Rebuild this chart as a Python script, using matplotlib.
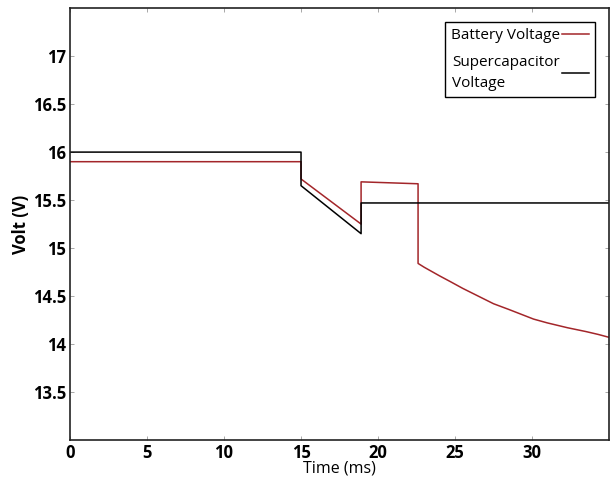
import numpy as np
import matplotlib.pyplot as plt

# battery voltage (red)
bat_t = [0, 15, 15, 18.9, 18.9, 22.6, 22.6, 23.0, 24.0, 24.7, 25.5, 26.5, 27.5,
         28.5, 29.3, 30.1, 31.0, 32.3, 33.5, 34.3, 35]
bat_v = [15.9, 15.9, 15.72, 15.25, 15.69, 15.67, 14.84, 14.80, 14.71, 14.65, 14.58, 14.50, 14.42,
         14.36, 14.31, 14.26, 14.22, 14.17, 14.13, 14.10, 14.07]

# supercapacitor voltage (black)
sc_t = [0, 15, 15, 18.9, 18.9, 35]
sc_v = [16.0, 16.0, 15.65, 15.15, 15.47, 15.47]

xticks = [0, 5, 10, 15, 20, 25, 30]
yticks = [13.5, 14, 14.5, 15, 15.5, 16, 16.5, 17]

plt.rcParams['font.family'] = ['Open Sans', 'DejaVu Sans']

fig = plt.figure(figsize=(6.1, 4.79), dpi=100)
ax = fig.add_axes([0.1148, 0.0814, 0.8836, 0.9016])

ax.plot(bat_t, bat_v, color='#a3262a', lw=1.1, label='Battery Voltage')
ax.plot(sc_t, sc_v, color='black', lw=1.1, label='Supercapacitor\nVoltage')

ax.set_xlim(0, 35)
ax.set_ylim(13, 17.5)
ax.set_xticks(xticks)
ax.set_yticks(yticks)
ax.set_xticklabels([str(x) for x in xticks], fontsize=12, fontweight='bold')
ax.set_yticklabels([f'{y:g}' for y in yticks], fontsize=12, fontweight='bold')
ax.tick_params(direction='in', length=3, width=0.6, color='#999999', top=True, right=True, pad=3)

ax.set_xlabel('Time (ms)', fontsize=11.5, labelpad=-1)
ax.set_ylabel('Volt (V)', fontsize=12, fontweight='bold', labelpad=2)

for s in ax.spines.values():
    s.set_linewidth(1.2)
    s.set_color('#222222')

leg = ax.legend(loc='upper right', fontsize=11, markerfirst=False, fancybox=False,
                edgecolor='black', framealpha=1, handlelength=1.8, handletextpad=0.1,
                borderaxespad=0.9, labelspacing=0.8, borderpad=0.4)
leg.get_frame().set_linewidth(1.0)
for t in leg.get_texts():
    t.set_linespacing(1.5)

fig.savefig('out.png', dpi=100)
